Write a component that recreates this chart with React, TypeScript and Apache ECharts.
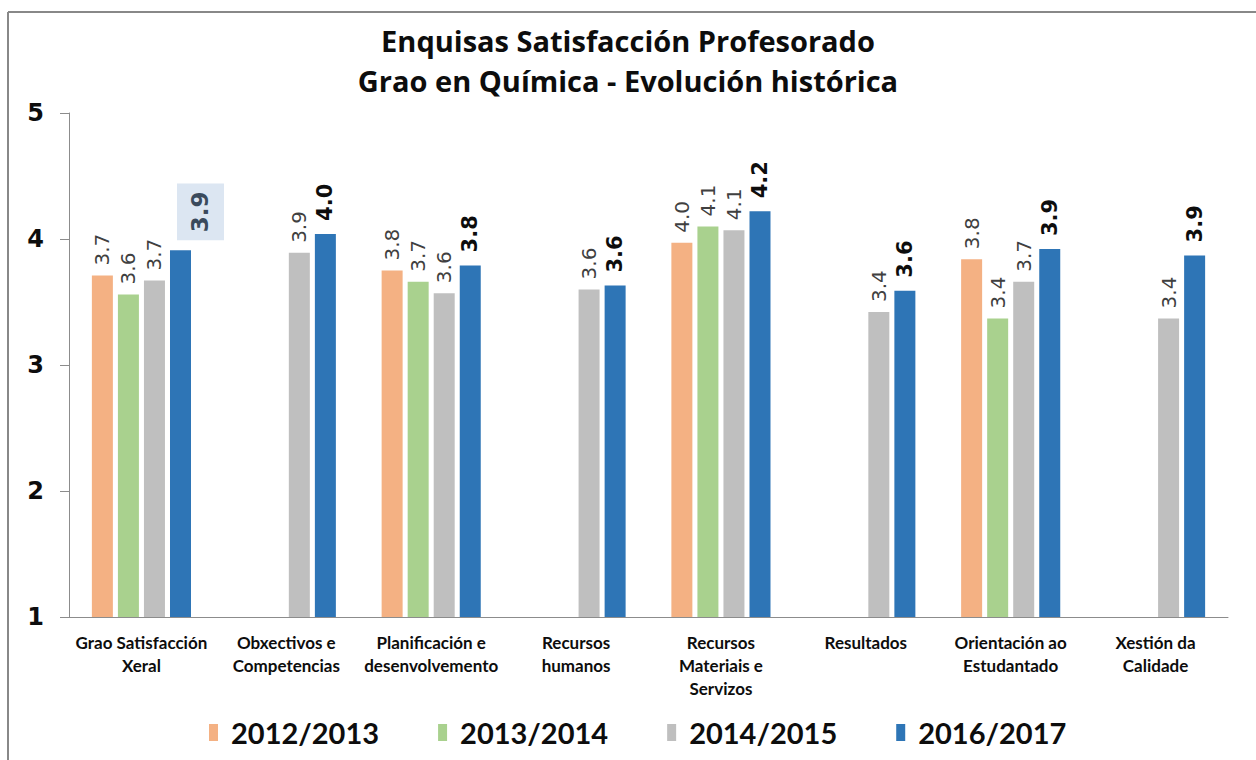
import React, { useEffect, useRef } from "react";
import * as echarts from "echarts";

const categories = [
  "Grao Satisfacción\nXeral",
  "Obxectivos e\nCompetencias",
  "Planificación e\ndesenvolvemento",
  "Recursos\nhumanos",
  "Recursos\nMateriais e\nServizos",
  "Resultados",
  "Orientación ao\nEstudantado",
  "Xestión da\nCalidade",
];

const seriesNames = ["2012/2013", "2013/2014", "2014/2015", "2016/2017"];
const v2012 = [3.71, null, 3.75, null, 3.97, null, 3.84, null];
const v2013 = [3.56, null, 3.66, null, 4.1, null, 3.37, null];
const v2014 = [3.67, 3.89, 3.57, 3.6, 4.07, 3.42, 3.66, 3.37];
const v2016 = [3.91, 4.04, 3.79, 3.63, 4.22, 3.59, 3.92, 3.87];
const colors = ["#f4b183", "#a9d18e", "#bfbfbf", "#2e75b6"];

const titleLines = ["Enquisas Satisfacción Profesorado", "Grao en Química - Evolución histórica"];

export default function App() {
  const ref = useRef<HTMLDivElement>(null);
  useEffect(() => {
    if (!ref.current) return;
    const chart = echarts.init(ref.current, null, { renderer: "svg" });
    const fmt = (p: any) => (p.value == null ? "" : Number(p.value).toFixed(1));
    const baseLabel = {
      show: true,
      position: "top",
      rotate: 90,
      align: "left",
      verticalAlign: "middle",
      distance: 10,
      fontFamily: "DejaVu Sans",
      fontSize: 20,
      color: "#404040",
      formatter: fmt,
    };
    const boldLabel = {
      ...baseLabel,
      fontWeight: "bold",
      fontSize: 21,
      color: "#0d0d0d",
      distance: 13,
    };
    const allData = [v2012, v2013, v2014, v2016];
    const series = allData.map((arr, i) => ({
      name: seriesNames[i],
      type: "bar",
      barWidth: 21,
      barGap: "24%",
      itemStyle: { color: colors[i] },
      label: i === 3 ? boldLabel : baseLabel,
      data: arr.map((v, j) => {
        if (i === 3 && j === 0) {
          return {
            value: v,
            label: {
              ...boldLabel,
              fontSize: 23,
              color: "#3a4a5c",
              backgroundColor: "#dce6f2",
              padding: [14, 8, 10, 8],
              offset: [0, 20],
              distance: 10,
            },
          };
        }
        return v;
      }),
    }));
    chart.setOption({
      animation: false,
      backgroundColor: "#ffffff",
      title: {
        text: titleLines.join("\n"),
        left: "center",
        top: 15,
        textStyle: {
          fontFamily: "Open Sans",
          fontWeight: "bold",
          fontSize: 29,
          lineHeight: 40,
          color: "#0d0d0d",
        },
      },
      legend: {
        bottom: 8,
        left: 204,
        itemWidth: 9,
        itemHeight: 17,
        itemGap: 59,
        icon: "rect",
        textStyle: {
          fontFamily: "Lato",
          fontWeight: "bold",
          fontSize: 29,
          color: "#0d0d0d",
          padding: [0, 0, 0, 8],
        },
        data: seriesNames,
      },
      grid: { left: 69, right: 28, top: 113, bottom: 143, containLabel: false },
      xAxis: {
        type: "category",
        data: categories,
        axisLine: { lineStyle: { color: "#8c8c8c", width: 1 } },
        axisTick: { show: false },
        axisLabel: {
          interval: 0,
          margin: 14,
          fontFamily: "Lato",
          fontWeight: "bold",
          fontSize: 17,
          lineHeight: 23,
          color: "#0d0d0d",
        },
      },
      yAxis: {
        type: "value",
        min: 1,
        max: 5,
        interval: 1,
        splitLine: { show: false },
        axisLine: { show: true, lineStyle: { color: "#8c8c8c", width: 1 } },
        axisTick: { show: true, length: 9, lineStyle: { color: "#8c8c8c" } },
        axisLabel: {
          margin: 25,
          fontFamily: "DejaVu Sans",
          fontWeight: "bold",
          fontSize: 24,
          color: "#0d0d0d",
        },
      },
      graphic: [
        {
          type: "line",
          shape: { x1: 8, y1: 12, x2: 8, y2: 760 },
          style: { stroke: "#888888", lineWidth: 2 },
        },
        {
          type: "line",
          shape: { x1: 8, y1: 12, x2: 1256, y2: 12 },
          style: { stroke: "#888888", lineWidth: 2 },
        },
      ],
      series,
    });
    return () => chart.dispose();
  }, []);
  return (
    <div
      ref={ref}
      style={{ position: "absolute", left: 0, top: 0, width: 1256, height: 760 }}
    />
  );
}
